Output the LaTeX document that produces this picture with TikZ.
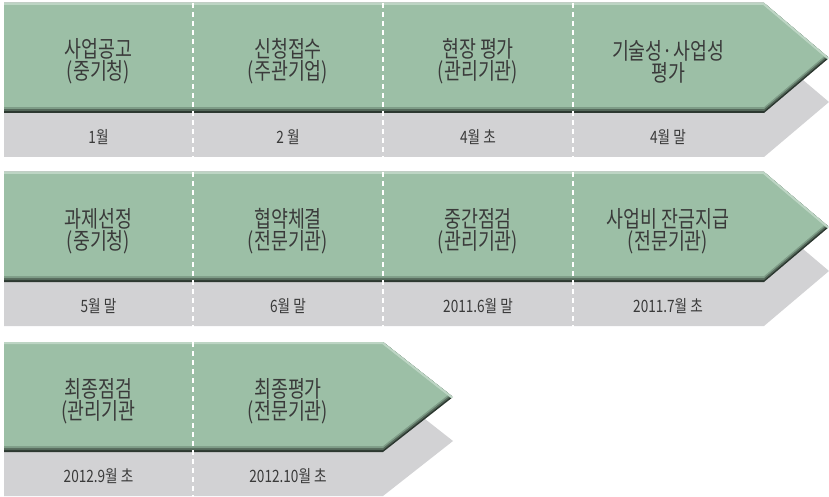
\documentclass[tikz,border=0pt]{standalone}
\usepackage{fontspec}
\setmainfont{Noto Sans CJK KR}[FakeStretch=0.8]
\usetikzlibrary{positioning}
\definecolor{bargreen}{HTML}{9CBFA6}
\definecolor{barlight}{HTML}{BDD5C4}
\definecolor{bardark}{HTML}{2C3830}
\definecolor{barmid}{HTML}{55695B}
\definecolor{barshade}{HTML}{7E9C87}
\definecolor{bargray}{HTML}{D2D2D4}
\definecolor{txt}{HTML}{3A3A3A}
\tikzstyle{task} = [align=center, text=txt, font=\fontsize{23}{20}\selectfont, inner sep=0pt]
\tikzstyle{when} = [text=txt, font=\fontsize{17}{17}\selectfont, inner sep=0pt]
\tikzstyle{sep} = [white, line width=1.3pt, dash pattern=on 5pt off 4pt]

% one banner row: #1 top, #2 end of flat part, #3 tip
\newcommand{\banner}[3]{%
  \fill[bargray] (4,{#1+44}) -- (#2,{#1+44}) -- (#3,{#1+99}) -- (#2,{#1+154}) -- (4,{#1+154}) -- cycle;
  \begin{scope}
    \clip (4,#1) -- (#2,#1) -- (#3,{#1+55}) -- (#2,{#1+110}) -- (4,{#1+110}) -- cycle;
    \fill[bardark] (0,{#1-10}) rectangle (#3,{#1+120});
    \fill[barmid, yshift=2pt] (4,#1) -- (#2,#1) -- (#3,{#1+55}) -- (#2,{#1+110}) -- (4,{#1+110}) -- cycle;
    \fill[barshade, yshift=4pt] (4,#1) -- (#2,#1) -- (#3,{#1+55}) -- (#2,{#1+110}) -- (4,{#1+110}) -- cycle;
    \fill[bargreen, yshift=6pt] (4,#1) -- (#2,#1) -- (#3,{#1+55}) -- (#2,{#1+110}) -- (4,{#1+110}) -- cycle;
    \draw[barlight, line width=4pt] (4,#1) -- (#2,#1) -- (#3,{#1+55});
  \end{scope}
}

\begin{document}
\begin{tikzpicture}[x=1pt, y=-1pt]
    \useasboundingbox (0,0) rectangle (829,497);

    % Row 1
    \banner{3}{764}{829}
    \draw[sep] (193,3) -- (193,157);
    \draw[sep] (383,3) -- (383,157);
    \draw[sep] (573,3) -- (573,157);
    \node[task] (notice) at (98.5,61.5) {사업공고\\(중기청)};
    \node[task] (apply) at (288,61.5) {신청접수\\(주관기업)};
    \node[task] (visit) at (478,61.5) {현장 평가\\(관리기관)};
    \node[task] (review) at (668,61.5) {기술성·사업성\\평가};
    \node[when] (d-notice) at (98.5,137) {1월};
    \node[when] (d-apply) at (288,137) {2 월};
    \node[when] (d-visit) at (478,137) {4월 초};
    \node[when] (d-review) at (668,137) {4월 말};

    % Row 2
    \banner{172}{764}{829}
    \draw[sep] (193,172) -- (193,327);
    \draw[sep] (383,172) -- (383,327);
    \draw[sep] (573,172) -- (573,327);
    \node[task] (select) at (98.5,231) {과제선정\\(중기청)};
    \node[task] (contract) at (288,231) {협약체결\\(전문기관)};
    \node[task] (midcheck) at (478,231) {중간점검\\(관리기관)};
    \node[task] (payment) at (668,231) {사업비 잔금지급\\(전문기관)};
    \node[when] (d-select) at (98.5,306) {5월 말};
    \node[when] (d-contract) at (288,306) {6월 말};
    \node[when] (d-midcheck) at (478,306) {2011.6월 말};
    \node[when] (d-payment) at (668,306) {2011.7월 초};

    % Row 3
    \banner{342}{383}{453}
    \draw[sep] (193,342) -- (193,497);
    \node[task] (lastcheck) at (98.5,401) {최종점검\\(관리기관};
    \node[task] (lastreview) at (288,401) {최종평가\\(전문기관)};
    \node[when] (d-lastcheck) at (98.5,476) {2012.9월 초};
    \node[when] (d-lastreview) at (288,476) {2012.10월 초};
\end{tikzpicture}
\end{document}
